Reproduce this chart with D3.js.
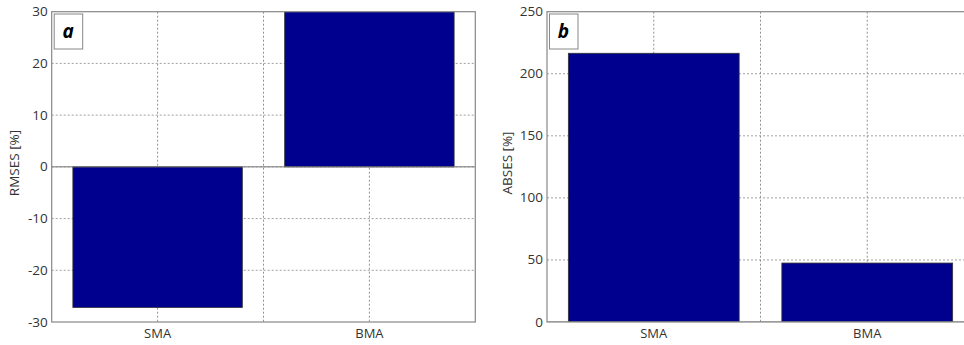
<!DOCTYPE html>
<html>
<head>
<meta charset="utf-8">
<script src="https://cdn.jsdelivr.net/npm/d3@7"></script>
<style>
  body { margin: 0; background: #fff; }
  svg { display: block; font-family: "Open Sans", "Liberation Sans", sans-serif; }
</style>
</head>
<body>
<div class="board"></div>
<script>
// data
const categories = ["SMA", "BMA"];
const rmsesValues = [-27.2, 30];
const absesValues = [216.5, 47.5];
const rmsesTicks = [-30, -20, -10, 0, 10, 20, 30];
const absesTicks = [0, 50, 100, 150, 200, 250];

const width = 964;
const height = 345;

const svg = d3.select(".board")
  .append("svg")
  .attr("width", width)
  .attr("height", height);

const drawPanel = function(opts) {
  const g = svg.append("g");
  const x = d3.scaleLinear().domain([0.5, 2.5]).range([opts.left, opts.right]);
  const y = d3.scaleLinear().domain(opts.domain).range([322, 11.7]);

  const clipId = "clip-" + opts.tag;
  svg.append("clipPath").attr("id", clipId)
    .append("rect")
    .attr("x", opts.left).attr("y", 11.7)
    .attr("width", opts.right - opts.left).attr("height", 322 - 11.7);

  const inner = g.append("g").attr("clip-path", "url(#" + clipId + ")");

  // grid lines
  inner.selectAll(".vgrid")
    .data([1, 1.5, 2])
    .enter().append("line")
    .attr("x1", d => x(d)).attr("x2", d => x(d))
    .attr("y1", y(opts.domain[1])).attr("y2", y(opts.domain[0]))
    .attr("stroke", "#777").attr("stroke-width", 0.8)
    .attr("stroke-dasharray", "2,2");

  inner.selectAll(".hgrid")
    .data(opts.ticks.slice(1, -1))
    .enter().append("line")
    .attr("x1", opts.left).attr("x2", opts.right)
    .attr("y1", d => y(d)).attr("y2", d => y(d))
    .attr("stroke", "#888").attr("stroke-width", 0.8)
    .attr("stroke-dasharray", "2,2");

  // bars
  const bw = 0.8;
  inner.selectAll(".bar")
    .data(opts.values)
    .enter().append("rect")
    .attr("x", (d, i) => x(i + 1 - bw / 2))
    .attr("width", x(bw) - x(0))
    .attr("y", d => y(Math.max(0, d)))
    .attr("height", d => Math.abs(y(d) - y(0)))
    .attr("fill", "#00008f")
    .attr("stroke", "#333")
    .attr("stroke-width", 0.8);

  // baseline
  inner.append("line")
    .attr("x1", opts.left).attr("x2", opts.right)
    .attr("y1", y(0)).attr("y2", y(0))
    .attr("stroke", "#777").attr("stroke-width", 1);

  // frame
  g.append("rect")
    .attr("x", opts.left).attr("y", 11.7)
    .attr("width", opts.right - opts.left).attr("height", 322 - 11.7)
    .attr("fill", "none").attr("stroke", "#888").attr("stroke-width", 1.2);

  // y axis labels
  g.selectAll(".ytick")
    .data(opts.ticks)
    .enter().append("text")
    .attr("x", opts.left - 4)
    .attr("y", d => y(d) + 4.5)
    .attr("text-anchor", "end")
    .attr("font-size", 13.5)
    .attr("fill", "#333")
    .text(d => d);

  // x axis labels
  g.selectAll(".xtick")
    .data(categories)
    .enter().append("text")
    .attr("x", (d, i) => x(i + 1))
    .attr("y", 338)
    .attr("text-anchor", "middle")
    .attr("font-size", 13)
    .attr("fill", "#333")
    .text(d => d);

  // axis title
  g.append("text")
    .attr("transform", "translate(" + opts.titleX + ",163) rotate(-90)")
    .attr("text-anchor", "middle")
    .attr("font-size", 13.5)
    .attr("fill", "#333")
    .text(opts.title);

  // panel letter box
  g.append("rect")
    .attr("x", opts.left + 2.5).attr("y", 14)
    .attr("width", 28.5).attr("height", 35)
    .attr("fill", "#fff").attr("stroke", "#888").attr("stroke-width", 1);
  g.append("text")
    .attr("x", opts.left + 16.5).attr("y", 38)
    .attr("text-anchor", "middle")
    .attr("font-size", 19)
    .attr("font-weight", "bold")
    .attr("font-style", "italic")
    .attr("fill", "#000")
    .text(opts.tag);
};

drawPanel({
  tag: "a", left: 51.7, right: 475.3,
  domain: [-30, 30], ticks: rmsesTicks, values: rmsesValues,
  title: "RMSES [%]", titleX: 19
});

drawPanel({
  tag: "b", left: 547, right: 974,
  domain: [0, 250], ticks: absesTicks, values: absesValues,
  title: "ABSES [%]", titleX: 512
});
</script>
</body>
</html>
